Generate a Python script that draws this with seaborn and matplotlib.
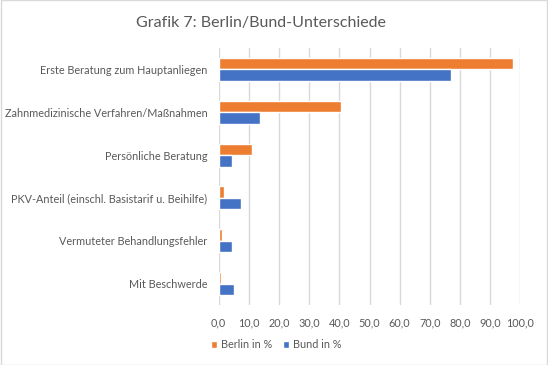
import matplotlib
matplotlib.use("Agg")
import matplotlib.pyplot as plt
import seaborn as sns
import pandas as pd
from matplotlib.patches import Rectangle

categories = [
    "Erste Beratung zum Hauptanliegen",
    "Zahnmedizinische Verfahren/Maßnahmen",
    "Persönliche Beratung",
    "PKV-Anteil (einschl. Basistarif u. Beihilfe)",
    "Vermuteter Behandlungsfehler",
    "Mit Beschwerde",
]
berlin = [97.7, 40.7, 10.9, 1.9, 1.1, 0.8]
bund = [77.1, 13.8, 4.5, 7.4, 4.3, 5.1]
series = ["Berlin in %", "Bund in %"]
colors = ["#ED7D31", "#4472C4"]
xticks = [0, 10, 20, 30, 40, 50, 60, 70, 80, 90, 100]

df = pd.DataFrame({
    "Kategorie": categories * 2,
    "Wert": berlin + bund,
    "Serie": [series[0]] * len(categories) + [series[1]] * len(categories),
})

sns.set_style("white")
plt.rcParams["font.family"] = ["Lato", "DejaVu Sans"]
text_color = "#595959"

fig = plt.figure(figsize=(5.48, 3.65), dpi=100)
ax = fig.add_axes([218.7 / 548, 1 - 305 / 365, (520.3 - 218.7) / 548, (305 - 48) / 365])

sns.barplot(data=df, y="Kategorie", x="Wert", hue="Serie", order=categories,
            hue_order=series, palette=colors, width=0.54, orient="h", ax=ax,
            saturation=1, legend=True)

ax.set_xlim(0, 100)
ax.set_xticks(xticks)
ax.set_xticklabels([f"{v:.1f}".replace(".", ",") for v in xticks], color=text_color, fontsize=7.8)
ax.set_yticklabels(categories, color=text_color, fontsize=7.8)
ax.set_xlabel("")
ax.set_ylabel("")
ax.tick_params(axis="x", length=0, pad=9)
ax.tick_params(axis="y", length=0, pad=8)
for s in ax.spines.values():
    s.set_visible(False)
ax.grid(axis="x", color="#d9d9d9", linewidth=1)
ax.set_axisbelow(True)

handles, labels = ax.get_legend_handles_labels()
ax.legend_.remove()
fig.legend(handles, labels, loc="center", bbox_to_anchor=(276 / 548, 1 - 345 / 365),
           ncol=2, frameon=False, fontsize=7.8, labelcolor=text_color,
           handlelength=0.6, handleheight=0.6, handletextpad=0.3, columnspacing=1.0)

fig.text(261 / 548, 1 - 23 / 365, "Grafik 7: Berlin/Bund-Unterschiede", ha="center", va="center",
         fontsize=11.5, color=text_color)

fig.patches.append(Rectangle((0.001, 0.001), 0.998, 0.998, transform=fig.transFigure,
                             fill=False, edgecolor="#d9d9d9", linewidth=1))

fig.savefig("out.png", dpi=100)
